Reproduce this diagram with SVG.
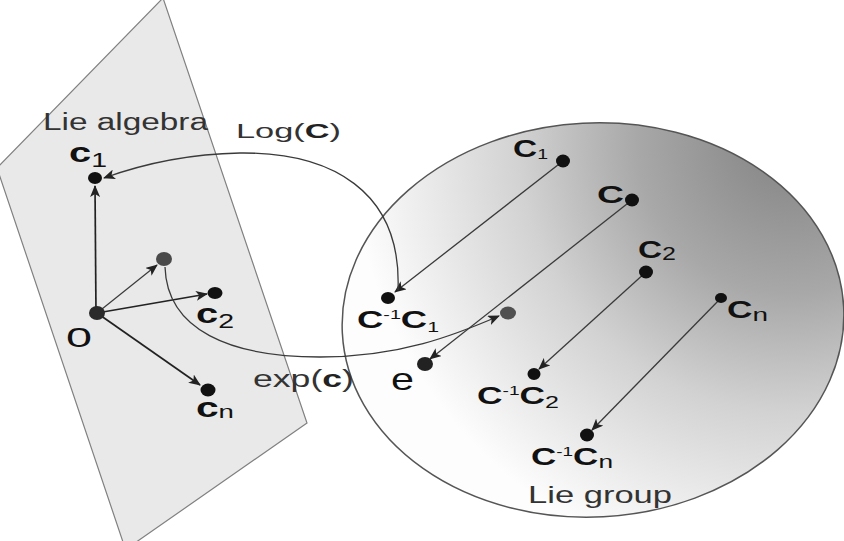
<svg xmlns="http://www.w3.org/2000/svg" width="844" height="541" viewBox="0 0 844 541">
  <style>
    text { font-family: "Liberation Sans", Arial, sans-serif; fill: #111; }
    .reg { fill: #333; }
    .b { font-weight: bold; }
    .conn { fill: none; stroke: #3a3a3a; stroke-width: 1.3; }
    .vec { fill: none; stroke: #222; stroke-width: 1.7; }
    .dot { fill: #111; }
    .gdot { fill: #4a4a4a; }
  </style>
  <defs>
    <radialGradient id="grp" gradientUnits="userSpaceOnUse" cx="800" cy="150" r="440">
      <stop offset="0" stop-color="#828282"/>
      <stop offset="0.35" stop-color="#a8a8a8"/>
      <stop offset="0.62" stop-color="#d2d2d2"/>
      <stop offset="0.85" stop-color="#ececec"/>
      <stop offset="1" stop-color="#fdfdfd"/>
    </radialGradient>
    <marker id="ah" markerUnits="userSpaceOnUse" markerWidth="12" markerHeight="10" viewBox="0 0 12 10" refX="11" refY="5" orient="auto">
      <path d="M0,0 L12,5 L0,10 L3,5 z" fill="#222"/>
    </marker>
  </defs>

  <g id="lie-algebra-plane">
    <polygon points="163,-2 307,423 132,545 124,545 -3,168" fill="#e9e9e9" stroke="#808080" stroke-width="1.2"/>
    <text class="reg" x="43" y="130" font-size="23.5" textLength="165" lengthAdjust="spacingAndGlyphs">Lie algebra</text>
  </g>

  <g id="lie-group">
    <ellipse cx="593" cy="320" rx="251" ry="197" transform="rotate(-3 593 320)" fill="url(#grp)" stroke="#555" stroke-width="1.5"/>
    <text class="reg" x="528" y="503" font-size="24" textLength="144" lengthAdjust="spacingAndGlyphs">Lie group</text>
  </g>

  <g id="connectors">
    <line class="vec" x1="96" y1="313" x2="95" y2="186" marker-end="url(#ah)"/>
    <line class="conn" x1="97" y1="313" x2="157" y2="265" marker-end="url(#ah)"/>
    <line class="vec" x1="97" y1="313" x2="207" y2="294" marker-end="url(#ah)"/>
    <line class="vec" x1="97" y1="313" x2="200" y2="385" marker-end="url(#ah)"/>
    <line class="conn" x1="563" y1="161" x2="395" y2="292" marker-end="url(#ah)"/>
    <line class="conn" x1="632" y1="200" x2="430" y2="359" marker-end="url(#ah)"/>
    <line class="conn" x1="646" y1="272" x2="539" y2="369" marker-end="url(#ah)"/>
    <line class="conn" x1="721" y1="298" x2="592" y2="430" marker-end="url(#ah)"/>
    <path class="conn" d="M398,290 C402,190 330,152 240,153 C185,154 140,165 104,178" marker-end="url(#ah)"/>
    <text class="reg" x="236" y="138" font-size="21" textLength="105" lengthAdjust="spacingAndGlyphs">Log(<tspan class="b" fill="#222">C</tspan>)</text>
    <path class="conn" d="M165,267 C167,330 230,357 320,357 C400,357 455,335 499,316" marker-end="url(#ah)"/>
    <text class="reg" x="253" y="387" font-size="23" textLength="101" lengthAdjust="spacingAndGlyphs">exp(<tspan class="b" fill="#222">c</tspan>)</text>
  </g>

  <g id="node-origin">
    <ellipse cx="97" cy="313" rx="8" ry="7" fill="#2a2a2a"/>
    <text x="66" y="347" font-size="28" textLength="26" lengthAdjust="spacingAndGlyphs" fill="#333">0</text>
  </g>
  <g id="node-c1">
    <ellipse class="dot" cx="95" cy="178" rx="7" ry="6"/>
    <text x="69" y="162" textLength="38" lengthAdjust="spacingAndGlyphs"><tspan class="b" font-size="28">c</tspan><tspan font-size="20" dy="5">1</tspan></text>
  </g>
  <g id="node-c">
    <ellipse class="gdot" cx="164" cy="259" rx="8" ry="7"/>
  </g>
  <g id="node-c2">
    <ellipse class="dot" cx="215" cy="293" rx="7.5" ry="6"/>
    <text x="196" y="323" textLength="38" lengthAdjust="spacingAndGlyphs"><tspan class="b" font-size="28">c</tspan><tspan font-size="20" dy="5">2</tspan></text>
  </g>
  <g id="node-cn">
    <ellipse class="dot" cx="208" cy="390" rx="7.5" ry="6.5"/>
    <text x="196" y="417" textLength="38" lengthAdjust="spacingAndGlyphs"><tspan class="b" font-size="28">c</tspan><tspan font-size="19" dy="1">n</tspan></text>
  </g>

  <g id="node-C1">
    <ellipse class="dot" cx="563" cy="161" rx="7" ry="6.5"/>
    <text x="513" y="157" textLength="35" lengthAdjust="spacingAndGlyphs"><tspan class="b" font-size="24">C</tspan><tspan font-size="14" dy="2">1</tspan></text>
  </g>
  <g id="node-C">
    <ellipse class="dot" cx="632" cy="200" rx="7" ry="6.5"/>
    <text class="b" x="597" y="203" font-size="24" textLength="27" lengthAdjust="spacingAndGlyphs">C</text>
  </g>
  <g id="node-C2">
    <ellipse class="dot" cx="646" cy="272" rx="7" ry="6.5"/>
    <text x="638" y="258" textLength="38" lengthAdjust="spacingAndGlyphs"><tspan class="b" font-size="24">C</tspan><tspan font-size="18" dy="2">2</tspan></text>
  </g>
  <g id="node-Cn">
    <ellipse class="dot" cx="721" cy="298" rx="6" ry="5"/>
    <text x="727" y="318" textLength="41" lengthAdjust="spacingAndGlyphs"><tspan class="b" font-size="24">C</tspan><tspan font-size="19" dy="3">n</tspan></text>
  </g>
  <g id="node-Cinv-C1">
    <ellipse class="dot" cx="388" cy="298" rx="7" ry="6"/>
    <text x="357" y="328" textLength="82" lengthAdjust="spacingAndGlyphs"><tspan class="b" font-size="24">C</tspan><tspan font-size="13" dy="-9">-1</tspan><tspan class="b" font-size="24" dy="9">C</tspan><tspan font-size="14" dy="4">1</tspan></text>
  </g>
  <g id="node-e">
    <ellipse cx="425" cy="364" rx="8" ry="7" fill="#222"/>
    <text x="391" y="390" font-size="32" textLength="23" lengthAdjust="spacingAndGlyphs" fill="#222">e</text>
  </g>
  <g id="node-exp-c">
    <ellipse cx="508" cy="313" rx="8" ry="6.5" fill="#505050"/>
  </g>
  <g id="node-Cinv-C2">
    <ellipse class="dot" cx="534" cy="374" rx="6.5" ry="6"/>
    <text x="477" y="404" textLength="82" lengthAdjust="spacingAndGlyphs"><tspan class="b" font-size="24">C</tspan><tspan font-size="13" dy="-9">-1</tspan><tspan class="b" font-size="24" dy="9">C</tspan><tspan font-size="17" dy="4">2</tspan></text>
  </g>
  <g id="node-Cinv-Cn">
    <ellipse class="dot" cx="587" cy="435" rx="7" ry="6.5"/>
    <text x="531" y="465" textLength="82" lengthAdjust="spacingAndGlyphs"><tspan class="b" font-size="24">C</tspan><tspan font-size="13" dy="-9">-1</tspan><tspan class="b" font-size="24" dy="9">C</tspan><tspan font-size="18" dy="3">n</tspan></text>
  </g>
</svg>
